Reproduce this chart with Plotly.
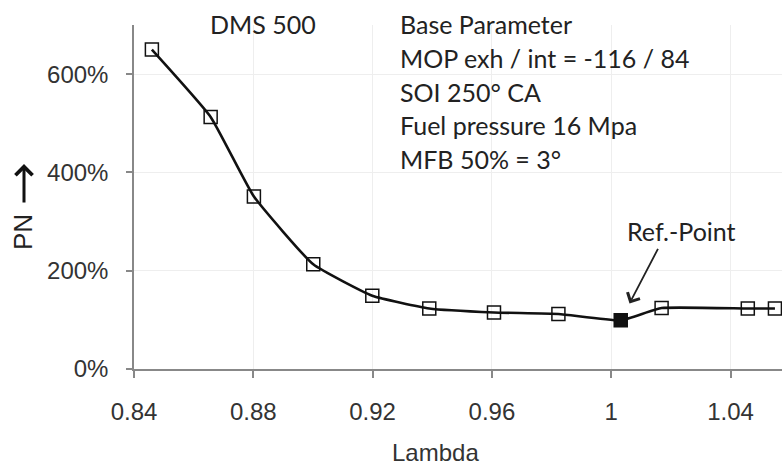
import plotly.graph_objects as go

# Data
lambda_vals = [0.846, 0.8657, 0.8802, 0.9001, 0.9199, 0.939, 0.9607, 0.9823, 1.0032, 1.0169, 1.0458, 1.0549]
pn_vals = [650, 513, 351, 213, 149, 123, 115, 112, 99, 124, 123, 123]
ref_index = 8
x_ticks = [0.84, 0.88, 0.92, 0.96, 1.0, 1.04]
x_tick_labels = ["0.84", "0.88", "0.92", "0.96", "1", "1.04"]
y_ticks = [0, 200, 400, 600]
y_tick_labels = ["0%", "200%", "400%", "600%"]
info_lines = ["Base Parameter", "MOP exh / int = -116 / 84", "SOI 250° CA",
              "Fuel pressure 16 Mpa", "MFB 50% = 3°"]

W, H = 782, 468
ML, MR, MT, MB = 134, 0, 25, 99
PW, PH = W - ML - MR, H - MT - MB


def px_x(px):
    return (px - ML) / PW


def px_y(py):
    return 1 - (py - MT) / PH


symbols = ["square" if i == ref_index else "square-open" for i in range(len(lambda_vals))]

fig = go.Figure()
fig.add_trace(go.Scatter(
    x=lambda_vals, y=pn_vals, mode="lines+markers",
    line=dict(color="#111111", width=2.6, shape="spline", smoothing=0.4),
    marker=dict(symbol=symbols, size=13, color="#111111",
                line=dict(color="#111111", width=1.5)),
    cliponaxis=False, showlegend=False,
))

tick_font = dict(family="Liberation Sans", size=24, color="#333333")
text_font = dict(family="Lato", size=25, color="#222222")

fig.update_xaxes(
    range=[0.84, 0.84 + PW / 2982.5],
    tickvals=x_ticks, ticktext=x_tick_labels,
    showgrid=True, gridcolor="#eeeeee", gridwidth=1,
    showline=True, linecolor="#888888", linewidth=1.5,
    ticks="outside", ticklen=7, tickcolor="#888888", tickwidth=1.5,
    tickfont=tick_font, ticklabelstandoff=13, zeroline=False,
)
fig.update_yaxes(
    range=[0, 700],
    tickvals=y_ticks, ticktext=y_tick_labels,
    showgrid=True, gridcolor="#eeeeee", gridwidth=1,
    showline=True, linecolor="#888888", linewidth=1.5,
    ticks="outside", ticklen=6, tickcolor="#888888", tickwidth=1.5,
    tickfont=tick_font, ticklabelstandoff=13, zeroline=False,
)

annotations = []
# DMS 500 label
annotations.append(dict(text="DMS 500", xref="paper", yref="paper",
                        x=px_x(263), y=px_y(24),
                        xanchor="center", yanchor="middle", showarrow=False, font=text_font))
# Info block
for i, line in enumerate(info_lines):
    annotations.append(dict(text=line, xref="paper", yref="paper",
                            x=px_x(398), y=px_y(24 + i * 33.8),
                            xanchor="left", yanchor="middle", showarrow=False, font=text_font))
# Ref.-Point arrow and label
annotations.append(dict(text="", x=lambda_vals[ref_index], y=pn_vals[ref_index],
                        xref="x", yref="y", showarrow=True, ax=38, ay=-73,
                        standoff=19, arrowhead=4, arrowsize=1.5, arrowwidth=1.8,
                        arrowcolor="#222222"))
annotations.append(dict(text="Ref.-Point", x=lambda_vals[ref_index], y=pn_vals[ref_index],
                        xref="x", yref="y", xshift=61, yshift=89, showarrow=False,
                        xanchor="center", yanchor="middle", font=text_font))
# Axis titles
annotations.append(dict(text="Lambda", xref="paper", yref="paper",
                        x=px_x(435), y=px_y(452),
                        xanchor="center", yanchor="middle", showarrow=False, font=tick_font))
annotations.append(dict(text="PN", xref="paper", yref="paper", textangle=-90,
                        x=px_x(23), y=px_y(232),
                        xanchor="center", yanchor="middle", showarrow=False,
                        font=dict(family="Liberation Sans", size=26, color="#222222")))
# Upward arrow of the y title
annotations.append(dict(text="", xref="paper", yref="paper",
                        x=px_x(24), y=px_y(164), ax=0, ay=40,
                        showarrow=True, arrowhead=4, arrowsize=1.1, arrowwidth=3,
                        arrowcolor="#111111"))

fig.update_layout(
    width=W, height=H, margin=dict(l=ML, r=MR, t=MT, b=MB),
    paper_bgcolor="white", plot_bgcolor="white",
    annotations=annotations,
)

fig.write_html("out.html")
